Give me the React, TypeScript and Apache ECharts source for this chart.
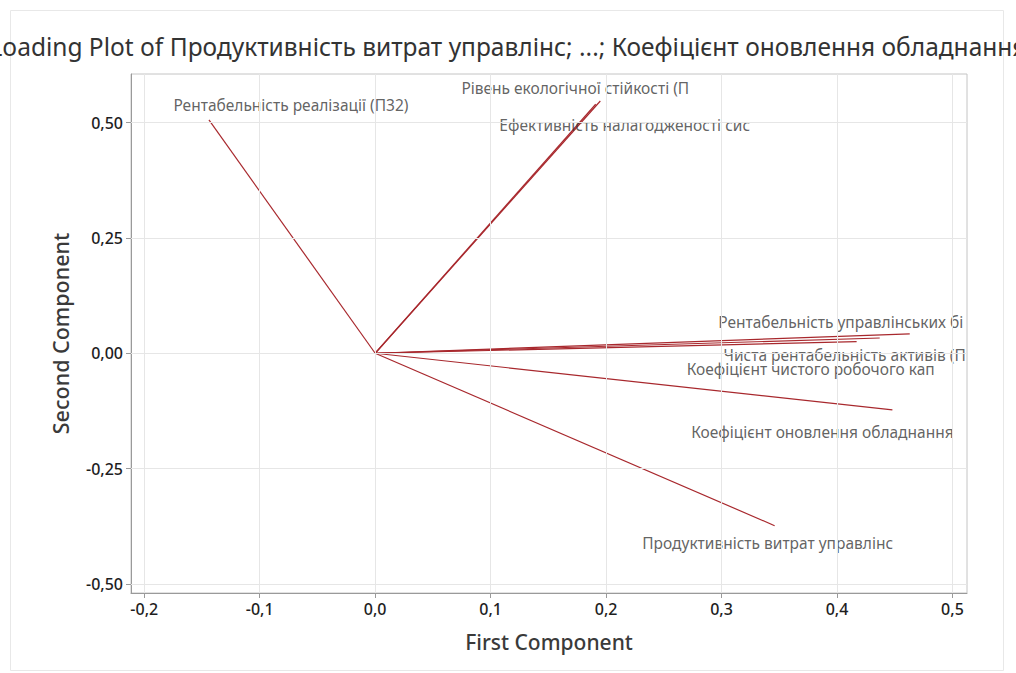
import React, { useEffect, useRef } from "react";
import * as echarts from "echarts";

// Loadings of each variable on the first two principal components
const variables = [
  "Рентабельність реалізації (П32)",
  "Рівень екологічної стійкості (П",
  "Ефективність налагодженості сис",
  "Рентабельність управлінських бі",
  "Чиста рентабельність активів (П",
  "Коефіцієнт чистого робочого кап",
  "Коефіцієнт оновлення обладнання",
  "Продуктивність витрат управлінс",
];
const firstComponent = [-0.144, 0.195, 0.191, 0.463, 0.417, 0.437, 0.448, 0.346];
const secondComponent = [0.506, 0.547, 0.54, 0.042, 0.025, 0.033, -0.123, -0.374];

const xTicks = [-0.2, -0.1, 0, 0.1, 0.2, 0.3, 0.4, 0.5];
const yTicks = [-0.5, -0.25, 0, 0.25, 0.5];

// Label placement relative to each vector's end point (px)
const labelOffsets = [
  [82, -15],
  [-25, -13],
  [29, 21],
  [-69, -12],
  [-12, 13],
  [-69, 31],
  [-70, 22],
  [-7, 17],
];

const FONT = "'Noto Sans', 'Open Sans', sans-serif";
const LINE_COLOR = "#a8282d";
const GRID_COLOR = "#e6e6e6";

export default function App() {
  const ref = useRef<HTMLDivElement>(null);

  useEffect(() => {
    if (!ref.current) return;
    const chart = echarts.init(ref.current, undefined, { renderer: "svg" });

    const vectorSeries = variables.map((name, i) => ({
      type: "line",
      name,
      z: 3,
      data: [
        [0, 0],
        [firstComponent[i], secondComponent[i]],
      ],
      symbol: "none",
      lineStyle: { color: LINE_COLOR, width: 1.2 },
      silent: true,
    }));

    const gridSeries = {
      type: "line",
      data: [],
      z: 1,
      silent: true,
      markLine: {
        silent: true,
        symbol: "none",
        label: { show: false },
        lineStyle: { color: GRID_COLOR, width: 1, type: "solid" },
        data: [
          ...xTicks.map((v) => ({ xAxis: v })),
          ...yTicks.map((v) => ({ yAxis: v })),
        ],
      },
    };

    const labelSeries = {
      type: "scatter",
      z: 4,
      symbolSize: 0,
      silent: true,
      data: variables.map((name, i) => ({
        name,
        value: [firstComponent[i], secondComponent[i]],
        label: { offset: labelOffsets[i] },
      })),
      label: {
        show: true,
        position: "inside",
        formatter: (p: any) => p.name,
        color: "#3a3a3a",
        fontFamily: FONT,
        fontSize: 15.5,
      },
    };

    chart.setOption({
      animation: false,
      title: {
        text: "Loading Plot of Продуктивність витрат управлінс; ...; Коефіцієнт оновлення обладнання",
        left: "center",
        top: 29,
        textStyle: {
          fontFamily: FONT,
          fontSize: 24.5,
          fontWeight: "normal",
          color: "#333333",
        },
      },
      graphic: [
        {
          type: "rect",
          shape: { x: 10.5, y: 10.5, width: 993, height: 660 },
          style: { fill: "none", stroke: "#e8e8e8", lineWidth: 1 },
          silent: true,
        },
      ],
      grid: {
        left: 131,
        right: 49,
        top: 74,
        bottom: 80,
        show: true,
        borderColor: "#c4c4c4",
        borderWidth: 1,
        backgroundColor: "transparent",
      },
      xAxis: {
        type: "value",
        min: -0.2115,
        max: 0.5126,
        name: "First Component",
        nameLocation: "middle",
        nameGap: 38,
        nameTextStyle: {
          fontFamily: FONT,
          fontSize: 21,
          fontWeight: 500,
          color: "#3a3a3a",
        },
        axisLine: { show: true, onZero: false, lineStyle: { color: "#9a9a9a" } },
        axisTick: {
          show: true,
          length: 5,
          customValues: xTicks,
          lineStyle: { color: "#9a9a9a" },
        },
        axisLabel: {
          customValues: xTicks,
          margin: 8,
          fontFamily: FONT,
          fontSize: 16,
          fontWeight: 500,
          color: "#1e1e1e",
          formatter: (v: number) => v.toFixed(1).replace(".", ","),
        },
        splitLine: { show: false },
      },
      yAxis: {
        type: "value",
        min: -0.52,
        max: 0.6056,
        name: "Second Component",
        nameLocation: "middle",
        nameGap: 60,
        nameRotate: 90,
        nameTextStyle: {
          fontFamily: FONT,
          fontSize: 21.5,
          fontWeight: 500,
          color: "#3a3a3a",
        },
        axisLine: { show: true, onZero: false, lineStyle: { color: "#9a9a9a" } },
        axisTick: {
          show: true,
          length: 5,
          customValues: yTicks,
          lineStyle: { color: "#9a9a9a" },
        },
        axisLabel: {
          customValues: yTicks,
          margin: 8,
          fontFamily: FONT,
          fontSize: 16,
          fontWeight: 500,
          color: "#1e1e1e",
          formatter: (v: number) => v.toFixed(2).replace(".", ","),
        },
        splitLine: { show: false },
      },
      series: [gridSeries, ...vectorSeries, labelSeries],
    });

    return () => chart.dispose();
  }, []);

  return (
    <div
      ref={ref}
      style={{
        position: "fixed",
        left: 0,
        top: 0,
        width: 1016,
        height: 673,
        background: "#ffffff",
      }}
    />
  );
}
